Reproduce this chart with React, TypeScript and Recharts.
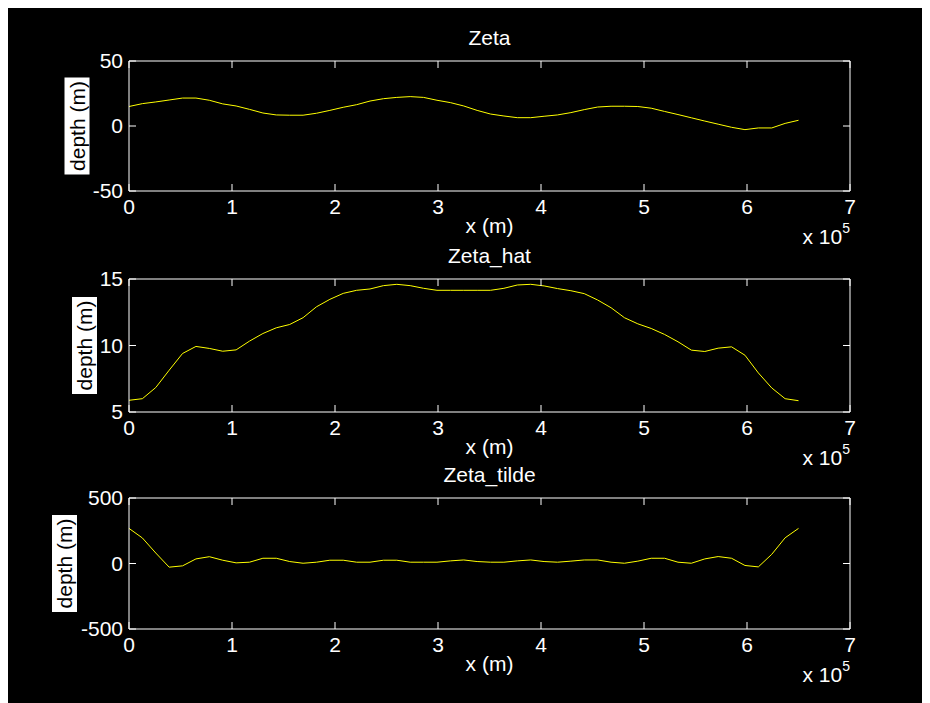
import { LineChart, Line, XAxis, YAxis } from 'recharts';

// sample positions along the section (m)
const xMetres = [
  0, 13000, 26000, 39000, 52000, 65000, 78000, 91000, 104000, 117000,
  130000, 143000, 156000, 169000, 182000, 195000, 208000, 221000, 234000, 247000,
  260000, 273000, 286000, 299000, 312000, 325000, 338000, 351000, 364000, 377000,
  390000, 403000, 416000, 429000, 442000, 455000, 468000, 481000, 494000, 507000,
  520000, 533000, 546000, 559000, 572000, 585000, 598000, 611000, 624000, 637000,
  650000,
];

const zeta = [
  15, 17.2, 18.5, 20, 21.5, 21.5, 19.8, 17, 15.4, 12.8,
  10, 8.5, 8.3, 8.3, 9.8, 12, 14.4, 16.4, 19.2, 21,
  22, 22.6, 22, 19.8, 18, 15.4, 12, 9.2, 7.7, 6.4,
  6.4, 7.5, 8.5, 10.3, 12.6, 14.6, 15.2, 15.2, 15, 13.7,
  11.2, 8.8, 6.3, 3.8, 1.4, -1, -2.8, -1.5, -1.5, 2,
  4.4,
];

const zetaHat = [
  5.88, 6.0, 6.84, 8.14, 9.4, 9.93, 9.78, 9.57, 9.67, 10.33,
  10.9, 11.33, 11.58, 12.09, 12.91, 13.47, 13.92, 14.15, 14.25, 14.5,
  14.6, 14.5, 14.3, 14.15, 14.15, 14.15, 14.15, 14.15, 14.3, 14.55,
  14.6, 14.48, 14.28, 14.12, 13.9, 13.42, 12.84, 12.09, 11.63, 11.28,
  10.83, 10.28, 9.65, 9.55, 9.8, 9.9, 9.27, 7.94, 6.81, 6.0,
  5.85,
];

const zetaTilde = [
  268, 195, 80, -28, -18, 35, 52, 25, 5, 10,
  40, 40, 15, 2, 10, 25, 25, 10, 10, 25,
  25, 10, 10, 10, 20, 27, 15, 10, 10, 20,
  27, 15, 10, 18, 27, 27, 10, 2, 18, 40,
  40, 10, 2, 35, 53, 40, -15, -26, 70, 196,
  268,
];

const xTicks = [0, 100000, 200000, 300000, 400000, 500000, 600000, 700000];

const FONT = '"Liberation Sans", Arial, Helvetica, sans-serif';
const W = 922;
const H = 695;
const PLOT_LEFT = 121;
const PLOT_RIGHT = 842;
const AXIS_W = 60;
const AXIS_H = 60;
const TICK_LEN = 7;

interface PanelSpec {
  title: string;
  values: number[];
  yDomain: [number, number];
  yTicks: number[];
  top: number;
  bottom: number;
  labelOffset: number;
}

const panels: PanelSpec[] = [
  { title: 'Zeta', values: zeta, yDomain: [-50, 50], yTicks: [-50, 0, 50], top: 53, bottom: 183, labelOffset: 52 },
  { title: 'Zeta_hat', values: zetaHat, yDomain: [5, 15], yTicks: [5, 10, 15], top: 271, bottom: 404, labelOffset: 44.5 },
  { title: 'Zeta_tilde', values: zetaTilde, yDomain: [-500, 500], yTicks: [-500, 0, 500], top: 490, bottom: 621, labelOffset: 64.5 },
];

// bottom ticks: inward marks on bottom and top edges plus the label
const xTick = (spec: PanelSpec) => (props: any) => {
  const { x, y, payload } = props;
  return (
    <g>
      <line x1={x} x2={x} y1={spec.bottom} y2={spec.bottom - TICK_LEN} stroke="#ffffff" />
      <line x1={x} x2={x} y1={spec.top} y2={spec.top + TICK_LEN} stroke="#ffffff" />
      <text x={x} y={y} dy="0.71em" textAnchor="middle" fill="#ffffff" fontSize={21} fontFamily={FONT}>
        {String(payload.value / 100000)}
      </text>
    </g>
  );
};

// left ticks: inward marks on left and right edges plus the label
const yTick = (props: any) => {
  const { x, y, payload } = props;
  return (
    <g>
      <line x1={PLOT_LEFT} x2={PLOT_LEFT + TICK_LEN} y1={y} y2={y} stroke="#ffffff" />
      <line x1={PLOT_RIGHT} x2={PLOT_RIGHT - TICK_LEN} y1={y} y2={y} stroke="#ffffff" />
      <text x={x} y={y} dy="0.355em" textAnchor="end" fill="#ffffff" fontSize={21} fontFamily={FONT}>
        {String(payload.value)}
      </text>
    </g>
  );
};

const panelText = (p: PanelSpec) => () => {
  const cx = (PLOT_LEFT + PLOT_RIGHT) / 2;
  return (
    <g fontFamily={FONT}>
      <line x1={PLOT_LEFT} x2={PLOT_RIGHT} y1={p.top} y2={p.top} stroke="#ffffff" />
      <line x1={PLOT_RIGHT} x2={PLOT_RIGHT} y1={p.top} y2={p.bottom} stroke="#ffffff" />
      <text x={cx} y={p.top - 16} fill="#ffffff" fontSize={21} textAnchor="middle">
        {p.title}
      </text>
      <text x={cx} y={p.bottom + 42} fill="#ffffff" fontSize={21} textAnchor="middle">
        x (m)
      </text>
      <text x={PLOT_RIGHT} y={p.bottom + 53} fill="#ffffff" fontSize={21} textAnchor="end">
        x 10
        <tspan fontSize={14} dy={-11}>
          5
        </tspan>
      </text>
      <g transform={`translate(${PLOT_LEFT - p.labelOffset}, ${(p.top + p.bottom) / 2})`}>
        <rect x={-12.5} y={-48.5} width={25} height={97} fill="#ffffff" />
        <text
          transform="rotate(-90)"
          textAnchor="middle"
          dominantBaseline="central"
          fill="#000000"
          fontSize={21}
        >
          depth (m)
        </text>
      </g>
    </g>
  );
};

const Panel = ({ spec }: { spec: PanelSpec }) => {
  const data = xMetres.map((x, i) => ({ x, y: spec.values[i] }));
  return (
    <div style={{ position: 'absolute', left: 0, top: 0 }}>
      <LineChart
        width={W}
        height={H}
        data={data}
        margin={{
          top: spec.top,
          bottom: H - spec.bottom - AXIS_H,
          left: PLOT_LEFT - AXIS_W,
          right: W - PLOT_RIGHT,
        }}
      >
        <XAxis
          dataKey="x"
          type="number"
          domain={[0, 700000]}
          ticks={xTicks}
          interval={0}
          height={AXIS_H}
          stroke="#ffffff"
          tickLine={false}
          tickSize={0}
          tickMargin={8}
          tick={xTick(spec)}
          label={{ content: panelText(spec) }}
        />
        <YAxis
          type="number"
          domain={spec.yDomain}
          ticks={spec.yTicks}
          interval={0}
          width={AXIS_W}
          stroke="#ffffff"
          tickLine={false}
          tickSize={0}
          tickMargin={6}
          tick={yTick}
        />
        <Line
          type="linear"
          dataKey="y"
          stroke="#ffff00"
          strokeWidth={1}
          dot={false}
          isAnimationActive={false}
        />
      </LineChart>
    </div>
  );
};

export default function App() {
  return (
    <div style={{ position: 'relative', width: W, height: H, background: '#000000' }}>
      {panels.map((p) => (
        <Panel key={p.title} spec={p} />
      ))}
    </div>
  );
}
